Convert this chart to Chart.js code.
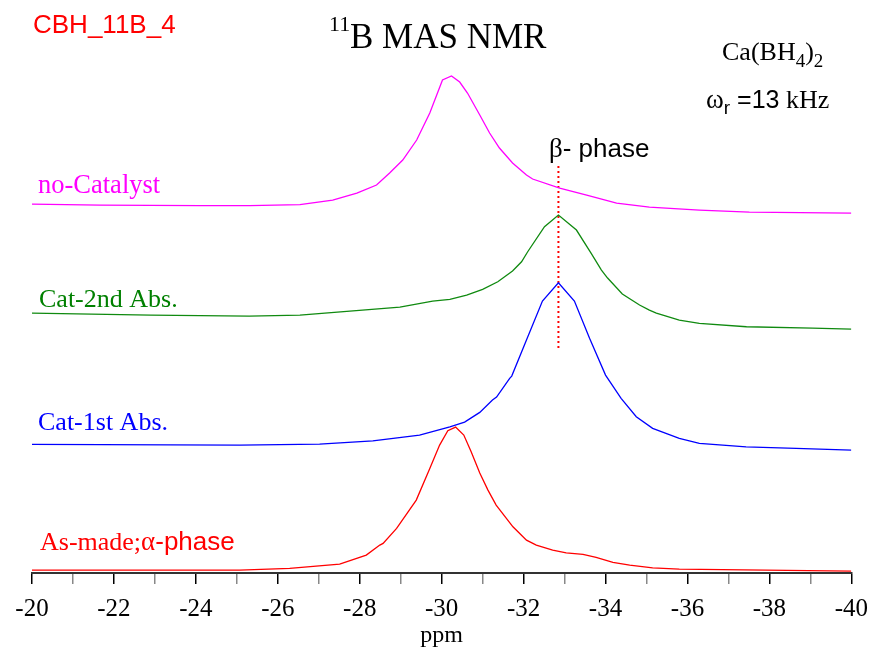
<!DOCTYPE html>
<html>
<head>
<meta charset="utf-8">
<script src="https://cdn.jsdelivr.net/npm/chart.js@4"></script>
<style>
  body { margin: 0; background: #fff; }
  #wrap { width: 872px; height: 650px; position: relative; }
</style>
</head>
<body>
<div id="wrap"><canvas id="nmr-chart"></canvas></div>
<script>
// chemical shift (ppm) and intensity, one pair of arrays per spectrum
const noCatPpm = [-20, -21.66, -24.10, -25.32, -26.54, -27.34, -27.93, -28.41, -28.73, -29.05, -29.39, -29.71, -30.02, -30.24, -30.44, -30.63, -30.93, -31.17, -31.41, -31.73, -32.07, -32.22, -32.88, -33.54, -34.27, -35.07, -36.29, -37.51, -40];
const noCatVal = [369, 368, 367.5, 367.5, 368.5, 373, 380, 388, 400, 413, 433, 460, 493, 497, 491, 480, 458, 440, 425, 410, 398, 394, 385, 378, 370, 366, 363, 361, 360];

const cat2Ppm = [-20, -22.9, -25.3, -26.54, -27.76, -28.98, -29.78, -30.20, -30.61, -31.00, -31.37, -31.73, -31.95, -32.10, -32.51, -32.85, -33.29, -33.65, -33.90, -34.05, -34.41, -34.83, -35.07, -35.24, -35.80, -36.29, -37.44, -39.05, -40];
const cat2Val = [260, 258, 257, 258, 262, 266, 272, 273.7, 278, 283.7, 291.3, 302, 311.3, 321.3, 346.3, 358, 343, 319.7, 303, 295, 279, 268, 263, 260, 253, 249.7, 246.3, 245, 244];

const cat1Ppm = [-20, -25.07, -27.02, -28.32, -29.46, -30.20, -30.56, -30.93, -31.24, -31.34, -31.66, -31.71, -32.07, -32.46, -32.85, -33.24, -33.61, -34.00, -34.38, -34.75, -35.15, -35.80, -36.29, -37.43, -38.65, -40];
const cat1Val = [128.7, 128, 129, 132.3, 138, 146.3, 151, 160.7, 173, 176, 194.7, 197, 233, 272, 290.3, 272, 234.7, 198, 174.7, 156.3, 144.7, 134.7, 129.7, 126.3, 124.7, 123];

const asMadePpm = [-20, -25.07, -26.29, -27.51, -28.16, -28.49, -28.57, -28.90, -29.38, -29.71, -29.95, -30.15, -30.34, -30.54, -30.72, -30.93, -31.13, -31.33, -31.74, -32.07, -32.31, -32.71, -33.04, -33.45, -33.77, -34.18, -34.59, -35.15, -35.80, -40];
const asMadeVal = [3, 3, 4.7, 9, 18, 28, 29.7, 44.7, 73, 104.7, 128, 142.3, 146, 138, 121.3, 100, 83, 68, 46.3, 33, 28, 23, 20.3, 18.7, 15.7, 10.7, 8, 5.3, 4, 2];

// beta-phase marker
const betaPpm = [-32.85, -32.85];
const betaVal = [407, 222];

const xTicksMin = -40;
const xTicksMax = -20;

function toPoints(xs, ys) {
    return xs.map((x, i) => ({ x: x, y: ys[i] }));
}

function spectrum(xs, ys, color) {
    return {
        data: toPoints(xs, ys),
        borderColor: color,
        borderWidth: 1.3,
        pointRadius: 0,
        tension: 0,
        fill: false
    };
}

// draws a run of text pieces with their own fonts, offsets and colours
function drawRun(ctx, x, y, pieces) {
    ctx.textBaseline = 'alphabetic';
    ctx.textAlign = 'left';
    pieces.forEach(p => {
        ctx.font = p.font;
        ctx.fillStyle = p.color || '#000';
        ctx.fillText(p.text, x + (p.dx || 0), y + (p.dy || 0));
        x += ctx.measureText(p.text).width + (p.dx || 0);
    });
}

const SERIF = '"Liberation Serif", "Times New Roman", serif';
const SANS = '"Liberation Sans", Arial, sans-serif';

const textPlugin = {
    id: 'nmrText',
    afterDraw(chart) {
        const ctx = chart.ctx;
        ctx.save();
        drawRun(ctx, 33, 33, [{ text: 'CBH_11B_4', font: '26px ' + SANS, color: '#ff0000' }]);
        drawRun(ctx, 329, 31, [{ text: '11', font: '22px ' + SERIF }]);
        drawRun(ctx, 350, 48, [{ text: 'B MAS NMR', font: '35px ' + SERIF }]);
        drawRun(ctx, 722, 60, [
            { text: 'Ca(BH', font: '26px ' + SERIF },
            { text: '4', font: '19px ' + SERIF, dy: 7 },
            { text: ')', font: '26px ' + SERIF },
            { text: '2', font: '19px ' + SERIF, dy: 7 }
        ]);
        drawRun(ctx, 706, 108, [
            { text: 'ω', font: '27px ' + SERIF },
            { text: 'r', font: '19px ' + SANS, dy: 6 },
            { text: ' =13', font: '25px ' + SANS },
            { text: ' kHz', font: '26px ' + SERIF }
        ]);
        drawRun(ctx, 549, 157, [
            { text: 'β', font: '27px ' + SERIF },
            { text: '- phase', font: '26px ' + SANS }
        ]);
        drawRun(ctx, 38, 193, [{ text: 'no-Catalyst', font: '26.5px ' + SERIF, color: '#ff00ff' }]);
        drawRun(ctx, 39, 307, [{ text: 'Cat-2nd Abs.', font: '26px ' + SERIF, color: '#008000' }]);
        drawRun(ctx, 38, 430, [{ text: 'Cat-1st Abs.', font: '26px ' + SERIF, color: '#0000ff' }]);
        drawRun(ctx, 40, 550, [
            { text: 'As-made;', font: '26px ' + SERIF, color: '#ff0000' },
            { text: 'α', font: '27px ' + SERIF, color: '#ff0000' },
            { text: '-phase', font: '26px ' + SANS, color: '#ff0000' }
        ]);
        ctx.restore();
    }
};

document.addEventListener('DOMContentLoaded', () => {
    const ctx = document.getElementById('nmr-chart').getContext('2d');

    const betaLine = spectrum(betaPpm, betaVal, '#ff0000');
    betaLine.borderDash = [2, 3];
    betaLine.borderWidth = 2;

    new Chart(ctx, {
        type: 'line',
        data: {
            datasets: [
                spectrum(noCatPpm, noCatVal, '#ff00ff'),
                spectrum(cat2Ppm, cat2Val, '#108a10'),
                spectrum(cat1Ppm, cat1Val, '#0000ff'),
                spectrum(asMadePpm, asMadeVal, '#ff0000'),
                betaLine
            ]
        },
        options: {
            responsive: true,
            maintainAspectRatio: false,
            animation: false,
            layout: { padding: { left: 32, right: 20, top: 0, bottom: 0 } },
            plugins: {
                legend: { display: false },
                tooltip: { enabled: false }
            },
            scales: {
                x: {
                    type: 'linear',
                    reverse: true,
                    min: xTicksMin,
                    max: xTicksMax,
                    border: { display: true, color: '#333', width: 2 },
                    grid: {
                        drawOnChartArea: false,
                        drawTicks: true,
                        tickLength: 11,
                        lineWidth: 1.5,
                        color: c => (c.tick && c.tick.value % 2 !== 0) ? '#888' : '#000'
                    },
                    ticks: {
                        stepSize: 1,
                        autoSkip: false,
                        maxRotation: 0,
                        padding: 4,
                        color: '#000',
                        font: { family: SERIF, size: 25, lineHeight: 1.74 },
                        callback: v => (v % 2 === 0) ? String(v) : ''
                    },
                    title: {
                        display: true,
                        text: 'ppm',
                        color: '#000',
                        font: { family: SERIF, size: 24, lineHeight: 0.6 },
                        padding: { top: -7, bottom: 7 }
                    }
                },
                y: {
                    display: false,
                    min: 0,
                    max: 573
                }
            }
        },
        plugins: [textPlugin]
    });
});
</script>
</body>
</html>
